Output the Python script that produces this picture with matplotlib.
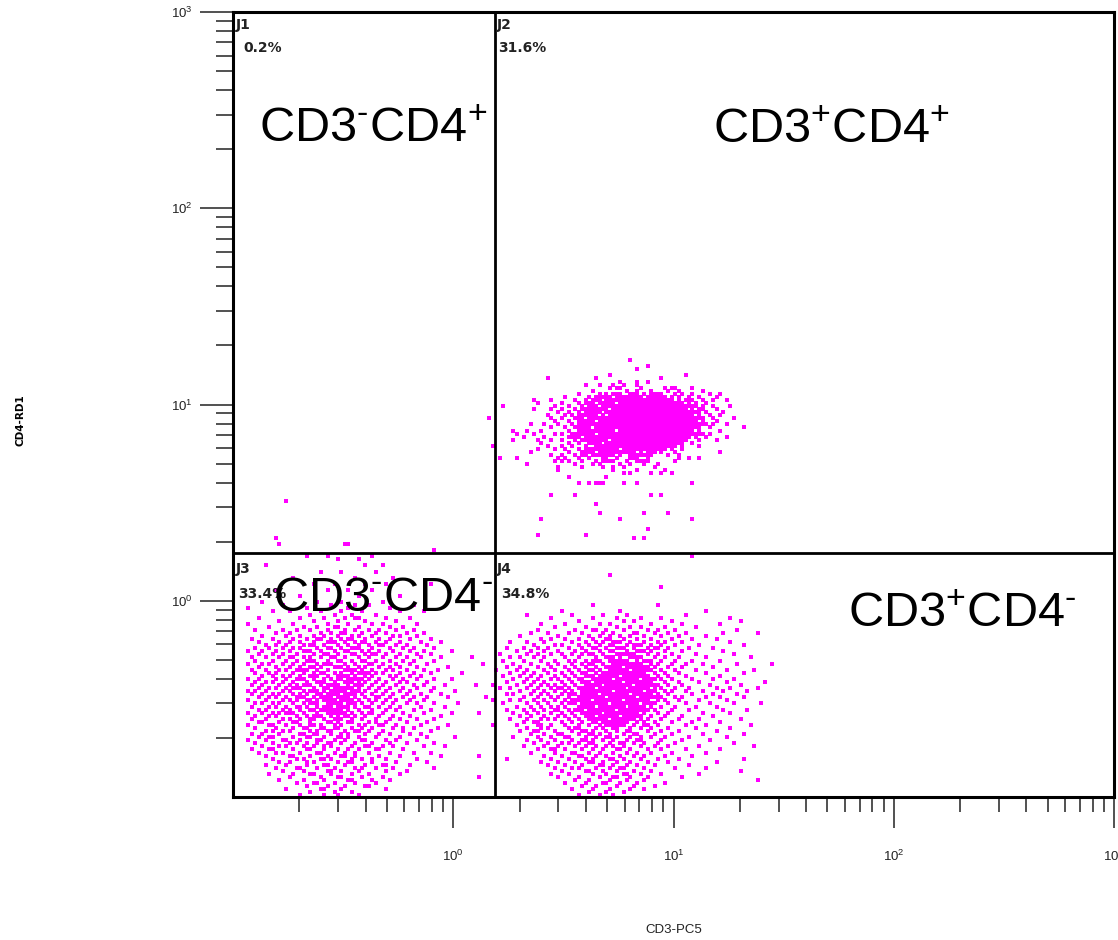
import matplotlib
matplotlib.use("Agg")
import matplotlib.pyplot as plt
from matplotlib.ticker import FixedLocator, LogLocator, NullFormatter
import numpy as np

plt.rcParams["font.family"] = ["Liberation Sans", "DejaVu Sans"]
plt.rcParams["mathtext.fontset"] = "custom"
plt.rcParams["mathtext.rm"] = "Liberation Sans"
plt.rcParams["mathtext.it"] = "Liberation Sans:italic"
plt.rcParams["mathtext.bf"] = "Liberation Sans:bold"

# dot plot is 256 channels over 4 log decades (0.1 .. 1000)
CH_PER_DECADE = 64
DOT = "#ff00ff"

# gate (quadrant) position on CD3 / CD4 axes
gate_cd3 = 1.55
gate_cd4 = 1.75

gate_names = ["J1", "J2", "J3", "J4"]
gate_pcts = ["0.2%", "31.6%", "33.4%", "34.8%"]
pop_labels = [
    r"CD3$^{\text{-}}$CD4$^{\text{+}}$",
    r"CD3$^{\text{+}}$CD4$^{\text{+}}$",
    r"CD3$^{\text{-}}$CD4$^{\text{-}}$",
    r"CD3$^{\text{+}}$CD4$^{\text{-}}$",
]
decades = [1, 10, 100, 1000]
decade_labels = [r"$\mathregular{10^{0}}$", r"$\mathregular{10^{1}}$",
                 r"$\mathregular{10^{2}}$", r"$\mathregular{10^{3}}$"]

# events: (CD4 channel, [CD3 channels or (first, last) runs])
j1_rows = [(96, [15]), (84, [12]), (82, [32]), (80, [58])]

j2_rows = [
    (142, [115]), (140, [120]), (139, [117]), (137, [109, 131]),
    (136, [91, 105, 124]), (135, [112, 117, 120]),
    (134, [102, 106, 110, 113, 117]),
    (133, [109, (111, 112), 118, 125, (127, 128), 133]),
    (132, [104, 114, 117, 121, 126, 129, 136]),
    (131, [100, 106, 108, (110, 112), (115, 117), 119, (121, 124), 128, 130, 133, 138, 141]),
    (130, [96, 103, (105, 109), (111, 118), (120, 125), 127, 129, 132, 135, 140]),
    (129, [87, 92, 99, 102, (104, 106), (108, 127), 129, (131, 133), 136, 139, 143]),
    (128, [88, 95, 100, (102, 104), (106, 110), (112, 130), 132, 134, 137]),
    (127, [78, 93, 97, 101, (103, 105), (107, 134), 136, 139, 144]),
    (126, [87, 92, 95, 99, (101, 108), (110, 131), 133, (135, 136), 140]),
    (125, [94, 97, 100, (102, 106), (108, 135), 137, 142]),
    (124, [91, 96, 98, (100, 105), 107, (109, 133), 135, 138, 141]),
    (123, [74, 92, 95, (99, 101), (103, 136), 139, 145]),
    (122, [93, 97, (100, 104), (106, 134), 136, 140]),
    (121, [86, 90, 94, 98, (100, 137), 139, 143]),
    (120, [92, 96, (99, 103), (105, 135), 138, 148]),
    (119, [81, 85, 89, 97, (100, 110), (112, 133), 135, 141]),
    (118, [82, 87, 93, 95, (98, 104), (106, 136), 138]),
    (117, [84, 90, (97, 100), (102, 132), 134, 137, 143]),
    (116, [81, 88, 92, 95, 99, (101, 108), (110, 131), 135, 140]),
    (115, [89, 97, 100, (103, 106), (108, 130), 133]),
    (114, [75, 91, 95, 98, 102, (105, 128), 130, 135]),
    (113, [88, 93, 96, 100, (102, 111), (113, 125), 127, 130]),
    (112, [86, 97, (101, 104), (106, 116), 118, (120, 122), 124, 128, 141]),
    (111, [92, 95, 99, (101, 102), (104, 110), 112, (115, 121), 126, 129]),
    (110, [77, 82, 94, 96, 100, 103, (107, 108), 111, (115, 117), 120, 129, 132, 135]),
    (109, [93, 95, 97, 101, 105, (107, 110), 114, (117, 120), 128]),
    (108, [85, 99, 104, 106, 112, 115, 119, 123]),
    (107, [94, 101, 107, 110, 113, 122]),
    (106, [94, 110, 117, 125]), (105, [113, 115, 121, 124, 127]),
    (104, [97, 108]), (102, [100, 103, (105, 107), 113, 117, 133]),
    (98, [92, 99, 121, 124]), (95, [105]), (92, [106, 119, 126]),
    (90, [89, 112, 133]), (87, [120]), (85, [88, 102]), (84, [116, 119]),
    (78, [133]),
]

j3_rows = [
    (82, [13, 33]), (78, [21, 27, 40]), (77, [30, 36]), (75, [9, 38, 43]),
    (73, [25, 31, 41]), (71, [17, 35, 46]), (69, [23, 29, 38, 44, 57]),
    (67, [12, 27, 33, 40]), (65, [19, 36, 48]), (63, [8, 24, 31, 43]),
    (62, [14, 28, 35, 39, 52]), (61, [4, 21, 33, 45]),
    (60, [11, 16, 25, 31, 37, 48, 55]), (59, [22, 29, 34, 41]),
    (58, [7, 19, 26, 32, (35, 36), 44, 51]), (57, [13, 23, 30, 38, 47]),
    (56, [4, 17, 27, 33, 40, 43, 53]), (55, [10, 20, 24, (29, 30), 36, 45, 49]),
    (54, [6, 14, 18, 22, 27, 32, 35, 39, 42, 47, 52]),
    (53, [12, 16, 25, 28, (31, 32), 37, 41, 44, 50, 55]),
    (52, [8, 15, 19, 23, 26, 30, 34, 36, 40, 46, 48, 53]),
    (51, [5, 11, 17, 21, (24, 25), 28, 31, (33, 34), 38, 42, 45, 51, 57]),
    (50, [7, 13, 16, 19, 23, (27, 29), 32, 35, (37, 38), 41, 44, 48, 54, 60]),
    (49, [9, 12, 15, 20, (22, 23), 26, 30, 33, 36, 39, (42, 43), 47, 50, 56]),
    (48, [6, 10, 14, 17, 19, 24, (27, 28), 31, (34, 36), 40, 45, 49, 52, 58]),
    (47, [4, 8, 12, 16, (20, 22), 25, 29, (32, 33), 37, 39, 42, 46, 51, 55, 63]),
    (46, [7, 11, 14, 18, 23, (26, 27), 30, (34, 35), 38, (40, 41), 44, 48, 53, 57]),
    (45, [5, 9, 13, (16, 17), 20, 22, 25, (28, 29), 32, 36, 39, 43, 47, 50, 54, 60, 69]),
    (44, [6, 11, 15, 18, (21, 23), 27, (30, 31), 34, (37, 38), 41, 45, 49, 52, 58]),
    (43, [4, 8, 10, 14, 17, 20, 24, (26, 28), 32, 35, (39, 40), 43, 47, 51, 56, 72]),
    (42, [7, 12, 16, 19, (22, 23), 25, (29, 31), 33, 36, 38, 42, 45, 48, 53, 62]),
    (41, [5, 9, 13, 15, (18, 21), 24, 27, (32, 35), 37, 40, 44, 46, 50, 55, 59]),
    (40, [6, 10, 12, 17, 20, 23, (25, 26), 29, 31, 34, (36, 39), 41, 43, 48, 52, 57, 66]),
    (39, [8, 11, 14, 16, 19, (22, 24), 27, (30, 33), 35, 38, 40, 45, 47, 51, 54]),
    (38, [4, 7, 12, 15, (18, 20), 23, 26, 28, (30, 31), (33, 37), 39, 42, 46, 49, 53, 58, 63]),
    (37, [6, 9, 11, 14, 17, 21, (24, 26), 29, (32, 34), 36, 38, 41, 44, 48, 50, 56]),
    (36, [5, 8, 13, 16, 18, (20, 22), 25, (27, 30), 33, (35, 37), 40, 43, 47, 52, 55, 61, 70]),
    (35, [7, 10, 12, 15, (17, 19), 23, (26, 27), (29, 34), 36, 39, 42, 45, 49, 53, 58]),
    (34, [4, 6, 9, 14, 16, 20, (22, 24), 26, (28, 32), (34, 36), 38, 41, 44, 48, 51, 57, 64]),
    (33, [5, 8, 11, 13, 17, 19, 21, (24, 25), (27, 30), (32, 35), 37, 40, 43, 46, 50, 54, 60]),
    (32, [7, 10, 12, 15, (18, 20), 23, (25, 28), (30, 33), 35, 38, (41, 42), 45, 49, 52, 56, 62, 73]),
    (31, [4, 9, 14, 16, 18, (21, 22), 24, (26, 29), (31, 34), 36, 39, 41, 44, 47, 51, 55]),
    (30, [6, 8, 11, 13, 17, 20, (22, 24), (27, 31), (33, 35), 37, 40, 43, 46, 50, 53, 58, 65]),
    (29, [5, 10, 12, 15, (18, 19), 21, 24, (26, 28), (30, 33), 35, (38, 39), 42, 45, 48, 54, 61]),
    (28, [7, 9, 14, 16, 19, (22, 23), (25, 31), 33, 36, 40, 44, 47, 52, 57]),
    (27, [4, 8, 11, 13, (15, 17), 20, 24, (27, 32), 34, 37, (39, 40), 43, 49, 55, 63, 71]),
    (26, [6, 10, 12, 18, 21, (23, 25), 28, 30, (32, 33), 35, 38, 42, 46, 51, 60]),
    (25, [5, 9, 14, 16, 19, (22, 23), 26, (29, 31), 34, 37, 41, 45, 48, 53, 58]),
    (24, [7, 8, 13, 17, 18, 22, 27, 28, 30, 33, 34, 39, 41, 44, 50, 56]),
    (23, [4, 10, 11, 15, 19, 22, 23, 25, 29, 31, 36, 38, 42, 43, 47, 54, 62]),
    (22, [6, 12, 17, 20, 21, 25, 26, 29, 30, 34, 37, 40, 46, 49, 52, 59]),
    (21, [9, 11, 14, 16, 22, 24, 27, 28, 32, 35, 36, 39, 43, 49, 57]),
    (20, [5, 8, 13, 19, 20, 23, 24, 28, 31, 33, 38, 42, 45, 51, 54]),
    (19, [7, 10, 11, 17, 21, 22, 26, 30, 31, 33, 36, 41, 48, 56, 64]),
    (18, [4, 9, 14, 15, 19, 24, 25, 29, 32, 37, 38, 44, 47, 53]),
    (17, [6, 11, 16, 18, 21, 24, 27, 28, 31, 35, 40, 45, 50, 58]),
    (16, [8, 13, 15, 20, 23, 26, 28, 34, 38, 39, 43, 46, 55, 61]),
    (15, [5, 10, 11, 17, 21, 22, 26, 30, 33, 36, 41, 42, 49]),
    (14, [7, 12, 14, 19, 24, 25, 29, 32, 35, 39, 45, 52, 57]),
    (13, [9, 16, 17, 22, 27, 31, 32, 35, 42, 48, 60, 71]),
    (12, [11, 18, 20, 25, 26, 28, 34, 37, 40, 44, 53]),
    (11, [13, 16, 21, 23, 30, 33, 34, 40, 47, 56]),
    (10, [9, 15, 21, 26, 27, 32, 38, 43, 44, 51]),
    (9, [12, 18, 19, 24, 29, 35, 37, 41, 46, 58]),
    (8, [14, 20, 27, 28, 31, 36, 44, 50]),
    (7, [10, 17, 22, 23, 28, 34, 39, 48]),
    (6, [16, 25, 30, 31, 37, 43, 71]),
    (5, [13, 20, 26, 33, 34, 40, 45]),
    (4, [18, 23, 24, 29, 35, 41]),
    (3, [21, 27, 32, 38, 39]),
    (2, [15, 25, 26, 31, 44]),
    (1, [22, 29, 34]),
    (0, [19, 26, 30, 36]),
]

j4_rows = [
    (72, [109]), (68, [124]), (62, [104, 123]), (60, [95, 112, 137]),
    (59, [85, 98, 107, 114, 131]), (58, [92, 104, 111, 118, 124, 144]),
    (57, [100, 113, 116, 127, 147]), (56, [89, 96, 106, 109, 121, 130, 141]),
    (55, [93, 102, 111, 115, 118, 125, 134]),
    (54, [88, 99, (104, 105), 108, 113, 120, 123, 128, 146]),
    (53, [86, 91, 97, 101, 107, 110, (116, 117), 122, 126, 131, 142, 152]),
    (52, [83, 94, 103, 106, 109, 112, 115, 119, 124, 129, 137]),
    (51, [89, 92, 96, 100, 104, (108, 109), 113, 117, 121, 127, 133, 140]),
    (50, [80, 85, 90, 98, 102, 105, 107, (110, 112), 115, 119, 123, 125, 130, 144]),
    (49, [87, 93, 95, 100, 103, 106, (109, 110), 114, (116, 118), 121, 124, 128, 135, 148]),
    (48, [79, 84, 88, 91, 97, 101, (104, 105), 108, (111, 113), 116, 120, (122, 123), 126, 132, 139]),
    (47, [82, 86, 90, 94, 99, 102, 106, (109, 110), 114, (117, 119), 121, 125, 130, 142]),
    (46, [77, 85, 88, 92, 95, 98, 101, (103, 104), 107, (111, 116), 120, 123, 127, 134, 145]),
    (45, [80, 83, 87, 90, 96, 100, 105, (108, 110), 112, (115, 118), 122, 125, 129, 137, 150]),
    (44, [78, 84, 89, 93, 97, 99, 102, (104, 106), (109, 114), 117, (119, 121), 124, 128, 133, 141]),
    (43, [81, 86, 91, 94, 98, 101, (103, 104), 107, (110, 118), 121, 123, 127, 131, 136, 146, 156]),
    (42, [79, 83, 88, 92, 96, 99, 102, 105, (108, 112), (114, 120), 122, 126, 130, 139]),
    (41, [76, 82, 85, 90, 93, 97, 100, (103, 104), 106, (109, 114), (116, 121), 124, 128, 134, 143, 151]),
    (40, [80, 84, 87, 91, 95, 98, (101, 102), 105, (107, 119), 122, 125, 129, 137, 148]),
    (39, [78, 83, 86, 89, 93, 96, 99, (102, 104), (106, 111), (113, 120), 123, 126, 131, 141]),
    (38, [81, 85, 88, 92, 94, 97, (100, 101), (104, 109), (111, 117), (119, 122), 124, 127, 133, 139, 145]),
    (37, [79, 84, 87, 90, 95, 98, (101, 103), (105, 112), (114, 121), 125, 129, 135, 143, 154]),
    (36, [75, 82, 86, 89, 91, 93, 96, 99, (102, 106), (108, 115), (117, 123), 126, 130, 138, 147]),
    (35, [77, 80, 85, 88, 92, (94, 95), 97, (100, 104), (106, 113), (115, 120), 122, 124, 128, 132, 140, 144, 152]),
    (34, [83, 87, 90, 93, 96, 98, (101, 109), (111, 118), (120, 122), 125, 127, 131, 136, 142, 149]),
    (33, [79, 81, 86, 89, 91, 95, (97, 99), (101, 105), (107, 114), (116, 121), 123, 126, 133, 139, 146]),
    (32, [84, 88, 92, 94, 97, (100, 107), (109, 116), (118, 124), 128, 130, 137, 141, 148]),
    (31, [75, 80, 83, 87, 90, 93, 96, (98, 103), (105, 112), (114, 120), 123, 125, 129, 135, 143]),
    (30, [78, 85, 88, 91, 95, (97, 99), (101, 108), (110, 117), (119, 122), 126, 131, 138, 145, 153]),
    (29, [82, 86, 89, 92, 94, 96, (100, 104), (106, 113), (115, 119), 121, 124, 128, 134, 140]),
    (28, [79, 84, 87, 90, (93, 94), 97, (99, 101), (103, 110), (112, 120), 122, 127, 132, 142, 149]),
    (27, [81, 85, 88, 92, 95, 98, (101, 106), (108, 117), 119, 123, 126, 136, 144]),
    (26, [83, 86, 90, 94, 96, 99, (102, 104), (106, 111), (113, 118), 121, 125, 130, 139]),
    (25, [80, 85, 89, 91, 93, 97, 100, (103, 108), (110, 116), 118, 120, 124, 129, 135, 147]),
    (24, [84, 87, 88, 95, 98, 101, (104, 105), (107, 114), 117, 119, 122, 127, 133, 141]),
    (23, [75, 82, 88, 89, 92, 96, 100, 103, 106, (108, 113), 116, 119, 120, 123, 131, 137, 150]),
    (22, [85, 89, 91, 97, 99, 100, 105, 107, 110, 111, 115, 118, 121, 126, 134, 144]),
    (21, [83, 87, 88, 93, 98, 101, 102, 104, 108, 111, 114, 115, 120, 124, 129, 140]),
    (20, [86, 90, 94, 95, 100, (103, 104), 106, 109, 113, 116, 117, 122, 127, 136, 148]),
    (19, [81, 88, 92, 96, 97, 102, 105, 108, 109, 111, 115, 118, 121, 125, 132, 143]),
    (18, [85, 89, 93, 98, 101, 102, 104, 107, 110, 114, 117, 118, 124, 130, 138]),
    (17, [87, 91, 95, 97, 100, 103, 104, 109, 112, 113, 116, 119, 123, 128, 145]),
    (16, [84, 90, 94, 99, 102, 105, 108, 110, 113, 118, 122, 126, 135, 151]),
    (15, [88, 92, 93, 96, 101, 104, 107, 111, 112, 115, 120, 124, 131, 141]),
    (14, [86, 93, 98, 99, 103, 106, 110, 114, 117, 121, 127, 137]),
    (13, [90, 95, 100, 101, 105, 108, 112, 116, 119, 125, 133]),
    (12, [79, 92, 97, 102, 104, 109, 110, 113, 118, 123, 129, 148]),
    (11, [89, 94, 99, 103, 104, 107, 111, 115, 120, 126, 140]),
    (10, [91, 96, 101, 106, 107, 110, 114, 117, 122, 132]),
    (9, [93, 98, 100, 105, 109, 112, 113, 119, 128, 137]),
    (8, [95, 102, 103, 107, 111, 116, 121, 147]),
    (7, [92, 97, 104, 108, 113, 114, 118, 124, 135]),
    (6, [94, 100, 106, 110, 111, 115, 120, 130]),
    (5, [99, 103, 109, 114, 119, 152]),
    (4, [96, 102, 107, 108, 112, 117, 125]),
    (3, [101, 105, 111, 116, 122]),
    (2, [98, 104, 109, 115, 119]),
    (1, [103, 108, 113]),
    (0, [100, 106, 110]),
]


def expand(rows):
    """Decode (cd4_channel, [cd3 channel | (first, last)]) rows into events."""
    xs, ys = [], []
    for cy, items in rows:
        for it in items:
            a, b = (it, it) if isinstance(it, int) else it
            for cx in range(a, b + 1):
                xs.append(cx)
                ys.append(cy)
    return np.array(xs, float), np.array(ys, float)


def ch_to_val(ch):
    return 10 ** ((ch + 0.5) / CH_PER_DECADE - 1)


fig = plt.figure(figsize=(11.18, 9.40), dpi=100)
ax = fig.add_axes([233 / 1118, 1 - 797 / 940, 881 / 1118, 785 / 940])
ax.set_xscale("log")
ax.set_yscale("log")
ax.set_xlim(0.1, 1000)
ax.set_ylim(0.1, 1000)

for rows in (j1_rows, j2_rows, j3_rows, j4_rows):
    cx, cy = expand(rows)
    ax.scatter(ch_to_val(cx), ch_to_val(cy), marker="s", s=8.5,
               color=DOT, linewidths=0, zorder=2)

ax.axvline(gate_cd3, color="black", lw=2.0, zorder=3)
ax.axhline(gate_cd4, color="black", lw=2.0, zorder=3)

for sp in ax.spines.values():
    sp.set_linewidth(2.2)

for axis in (ax.xaxis, ax.yaxis):
    axis.set_major_locator(FixedLocator(decades))
    axis.set_minor_locator(LogLocator(base=10, subs=np.arange(2, 10)))
    axis.set_minor_formatter(NullFormatter())
ax.set_xticklabels(decade_labels)
ax.set_yticklabels(decade_labels)
ax.tick_params(axis="y", which="major", length=24, width=1.1, pad=5,
               labelsize=9.5, colors="#222222")
ax.tick_params(axis="y", which="minor", length=12, width=1.1, colors="#222222")
ax.tick_params(axis="x", which="major", length=22, width=1.1, pad=15,
               labelsize=9.5, colors="#222222")
ax.tick_params(axis="x", which="minor", length=11, width=1.1, colors="#222222")

# gate names + percentages, top-left of each quadrant
name_pos = [(0.003, 0.992), (0.300, 0.992), (0.003, 0.300), (0.300, 0.299)]
pct_pos = [(0.012, 0.963), (0.301, 0.963), (0.006, 0.268), (0.304, 0.268)]
for name, pct, npos, ppos in zip(gate_names, gate_pcts, name_pos, pct_pos):
    ax.text(*npos, name, transform=ax.transAxes, ha="left", va="top",
            fontsize=10, fontweight="bold", color="#222222",
            family="DejaVu Sans", zorder=4)
    ax.text(*ppos, pct, transform=ax.transAxes, ha="left", va="top",
            fontsize=10, fontweight="bold", color="#222222",
            family="DejaVu Sans", zorder=4)

label_pos = [(0.0295, 0.834), (0.545, 0.833), (0.0454, 0.237), (0.698, 0.216)]
for txt, (lx, ly) in zip(pop_labels, label_pos):
    ax.text(lx, ly, txt, transform=ax.transAxes, ha="left", va="baseline",
            fontsize=35, color="black", zorder=5)

fig.text(20 / 1118, 1 - 420 / 940, "CD4-RD1", rotation=90, ha="center",
         va="center", fontsize=7.5, fontweight="bold", family="DejaVu Sans")
fig.text(674 / 1118, 1 - 930 / 940, "CD3-PC5", ha="center", va="center",
         fontsize=9.5, color="#222222")

fig.savefig("out.png", dpi=100)
